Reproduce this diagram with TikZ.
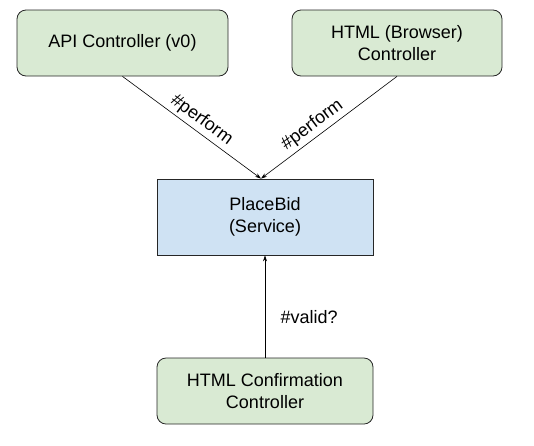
\documentclass[tikz,border=0pt]{standalone}
\usepackage{fontspec}
\setmainfont{Liberation Sans}
\usetikzlibrary{arrows.meta}

\definecolor{ctrlgreen}{HTML}{D9EAD3}
\definecolor{svcblue}{HTML}{CFE2F3}

\tikzset{
  ctrlbox/.style={draw=black!85,fill=ctrlgreen,rounded corners=9pt,line width=0.8pt,
    minimum height=66pt,align=center,inner sep=0pt},
  svcbox/.style={draw=black!85,fill=svcblue,line width=0.8pt,
    minimum height=76pt,minimum width=216pt,align=center,inner sep=0pt},
  call/.style={draw=black,line width=0.6pt,-{Stealth[length=6pt,width=4pt]}}
}

\begin{document}
\begin{tikzpicture}[x=1pt,y=-1pt,font=\fontsize{18}{22}\selectfont]
      \useasboundingbox (0,0) rectangle (534,445);

      \draw (122.5,43) node [ctrlbox,minimum width=211pt] (api) {API Controller (v0)};
      \draw (397,43) node [ctrlbox,minimum width=210pt] (html) {HTML (Browser)\\Controller};
      \draw (265,217) node [svcbox] (bid) {PlaceBid\\(Service)};
      \draw (265,391) node [ctrlbox,minimum width=216pt] (conf) {HTML Confirmation\\Controller};

      \coordinate (meet) at ([xshift=-4pt]bid.north);

      \draw [call] (api.south) -- node [sloped,above,pos=0.52] {\#perform} (meet);
      \draw [call] (html.south) -- node [sloped,above,pos=0.57] {\#perform} (meet);
      \draw [call] (conf.north) -- node [right=12pt,pos=0.4] {\#valid?} (bid.south);
    \end{tikzpicture}
\end{document}
